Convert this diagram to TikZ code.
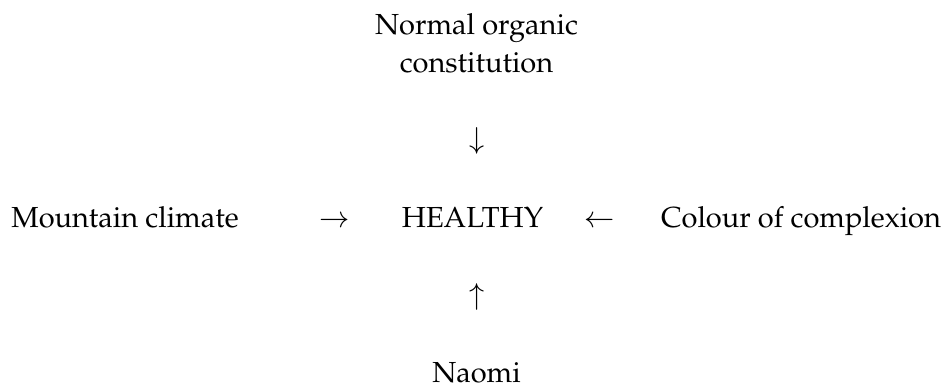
\documentclass[tikz,border=0pt]{standalone}
\usepackage[T1]{fontenc}
\usepackage{mathpazo}
\begin{document}
\begin{tikzpicture}[x=1pt,y=1pt,
  lbl/.style={inner sep=0pt,outer sep=0pt,font=\fontsize{29}{38}\selectfont},
  glyph/.style={inner sep=0pt,outer sep=0pt,font=\fontsize{29}{38}\selectfont}]
\useasboundingbox (0,0) rectangle (947,387);
\node[lbl,anchor=base,align=center] (top) at (476.5,314) {Normal organic\\constitution};
\node[glyph] (down) at (477,246.5) {$\downarrow$};
\node[lbl,anchor=base] (mc) at (125,159) {Mountain climate};
\node[glyph,anchor=base] (right) at (335,159) {$\rightarrow$};
\node[lbl,anchor=base] (h) at (472.5,159) {HEALTHY};
\node[glyph,anchor=base] (left) at (600,159) {$\leftarrow$};
\node[lbl,anchor=base] (cc) at (801,159) {Colour of complexion};
\node[glyph] (up) at (477,90.5) {$\uparrow$};
\node[lbl,anchor=base] (n) at (476.5,4.5) {Naomi};
\end{tikzpicture}
\end{document}
